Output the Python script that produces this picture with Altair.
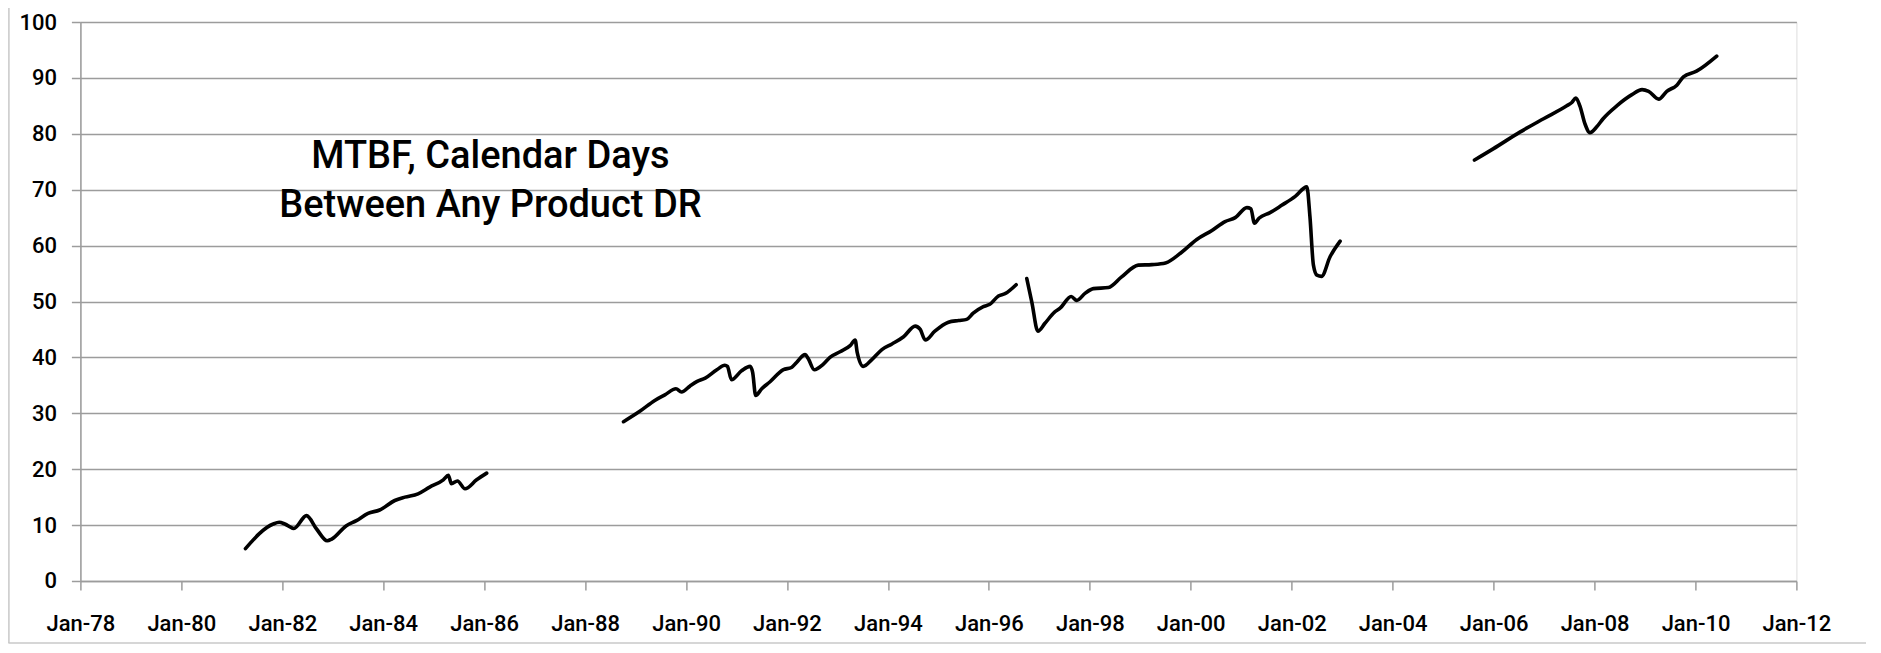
import altair as alt
import pandas as pd

# Segment data: decimal years and MTBF (calendar days)
seg1_t = [1981.27, 1981.82, 1981.94, 1982.05, 1982.23, 1982.48, 1982.68, 1982.89, 1982.98,
          1983.27, 1983.47, 1983.70, 1983.93, 1984.23, 1984.43, 1984.69, 1984.92, 1985.19,
          1985.29, 1985.35, 1985.47, 1985.62, 1985.85, 1986.05]
seg1_v = [5.8, 10.2, 10.5, 10.2, 9.4, 11.7, 9.3, 7.2, 7.5,
          9.9, 10.8, 12.1, 12.7, 14.4, 15.0, 15.6, 16.8, 18.1,
          18.9, 17.4, 17.9, 16.5, 18.1, 19.3]

seg2_t = [1988.76, 1989.09, 1989.38, 1989.58, 1989.80, 1989.91, 1990.08, 1990.22, 1990.38,
          1990.61, 1990.77, 1990.82, 1990.90, 1991.10, 1991.27, 1991.32, 1991.38, 1991.50,
          1991.66, 1991.93, 1992.09, 1992.19, 1992.36, 1992.42, 1992.54, 1992.72, 1992.85,
          1993.05, 1993.25, 1993.35, 1993.39, 1993.51, 1993.68, 1993.88, 1994.08, 1994.31,
          1994.54, 1994.64, 1994.74, 1994.93, 1995.20, 1995.40, 1995.56, 1995.69, 1995.89,
          1996.02, 1996.19, 1996.32, 1996.54]
seg2_v = [28.5, 30.4, 32.3, 33.3, 34.4, 33.8, 34.9, 35.7, 36.3,
          37.8, 38.6, 38.4, 36.0, 37.6, 38.4, 37.3, 33.2, 34.4,
          35.6, 37.8, 38.2, 39.1, 40.5, 39.8, 37.8, 38.8, 40.0,
          41.0, 42.1, 43.1, 40.9, 38.4, 39.6, 41.4, 42.4, 43.7,
          45.6, 45.0, 43.1, 44.7, 46.3, 46.6, 46.8, 47.9, 49.1,
          49.5, 51.0, 51.4, 53.0]

seg3_t = [1996.75, 1996.85, 1996.97, 1997.11, 1997.30, 1997.41, 1997.63, 1997.74, 1997.91,
          1998.07, 1998.37, 1998.63, 1998.96, 1999.23, 1999.50, 1999.82, 2000.12, 2000.42,
          2000.68, 2000.88, 2001.11, 2001.19, 2001.26, 2001.35, 2001.57, 2001.80, 2002.07,
          2002.30, 2002.36, 2002.43, 2002.50, 2002.59, 2002.76, 2002.96]
seg3_v = [54.1, 49.9, 44.7, 46.1, 48.1, 48.8, 50.9, 50.2, 51.5,
          52.3, 52.5, 54.4, 56.5, 56.6, 56.9, 58.8, 61.1, 62.7,
          64.3, 65.0, 66.8, 66.6, 64.0, 64.9, 65.9, 67.2, 68.8,
          70.5, 65.3, 56.5, 54.7, 54.5, 58.0, 60.8]

seg4_t = [2005.62, 2005.99, 2006.52, 2006.99, 2007.45, 2007.55, 2007.63, 2007.71, 2007.81,
          2007.91, 2008.04, 2008.17, 2008.44, 2008.74, 2008.94, 2009.07, 2009.27, 2009.43,
          2009.63, 2009.76, 2010.02, 2010.42]
seg4_v = [75.3, 77.3, 80.3, 82.7, 85.0, 85.6, 86.4, 85.0, 81.8,
          80.2, 81.2, 82.7, 85.0, 87.0, 87.9, 87.6, 86.2, 87.6,
          88.7, 90.2, 91.2, 93.9]

tick_years = list(range(1978, 2013, 2))
y_ticks = list(range(0, 101, 10))
annotation = ["MTBF, Calendar Days", "Between Any Product DR"]


def to_iso(t):
    y = int(t)
    frac = t - y
    start = pd.Timestamp(year=y, month=1, day=1)
    end = pd.Timestamp(year=y + 1, month=1, day=1)
    return (start + (end - start) * frac).strftime("%Y-%m-%dT%H:%M:%S")


rows = []
for sid, (ts, vs) in enumerate([(seg1_t, seg1_v), (seg2_t, seg2_v),
                                (seg3_t, seg3_v), (seg4_t, seg4_v)]):
    for t, v in zip(ts, vs):
        rows.append({"date": to_iso(t), "value": v, "seg": sid})
df = pd.DataFrame(rows)

FONT = "Roboto"
GRID = "#9c9c9c"
TOP = 14.0
W, H = 1716, 559

line = alt.Chart(df).mark_line(
    color="black", strokeWidth=3.6, interpolate="monotone", strokeCap="round", strokeJoin="round"
).encode(
    x=alt.X("date:T",
            scale=alt.Scale(domain=[alt.DateTime(year=1978, month=1, date=1),
                                    alt.DateTime(year=2012, month=1, date=1)]),
            axis=alt.Axis(values=[alt.DateTime(year=y, month=1, date=1) for y in tick_years],
                          format="%b-%y", title=None, grid=False,
                          domainColor=GRID, domainWidth=1.5,
                          tickColor=GRID, tickWidth=1.5, tickSize=9,
                          labelFont=FONT, labelFontSize=22, labelColor="black",
                          labelFontWeight=500,
                          labelPadding=24, labelFlush=False, labelOverlap=False)),
    y=alt.Y("value:Q",
            scale=alt.Scale(domain=[0, 100], nice=False, zero=True),
            axis=alt.Axis(values=y_ticks, title=None, grid=True,
                          gridColor=GRID, gridWidth=1.5,
                          domainColor=GRID, domainWidth=1.5,
                          tickColor=GRID, tickWidth=1.5, tickSize=9,
                          labelFont=FONT, labelFontSize=22, labelColor="black",
                          labelPadding=15, labelFontWeight=500)),
    detail="seg:N",
)

dummy = pd.DataFrame({"k": [0]})

text = alt.Chart(dummy).mark_text(
    text=annotation, font=FONT, fontSize=38, fontWeight=500, color="black",
    align="center", baseline="alphabetic", lineHeight=49
).encode(x=alt.value(410), y=alt.value(160 - TOP))

border_left = alt.Chart(dummy).mark_rule(color="#c8c8c8", strokeWidth=1.5).encode(
    x=alt.value(-71.5), y=alt.value(-TOP), y2=alt.value(H + 62))
border_bottom = alt.Chart(dummy).mark_rule(color="#c8c8c8", strokeWidth=1.5).encode(
    x=alt.value(-72), x2=alt.value(1786), y=alt.value(H + 62))

chart = alt.layer(border_left, border_bottom, line, text).properties(
    width=W, height=H,
    autosize=alt.AutoSizeParams(type="none"),
    padding={"left": 72.4, "top": TOP, "right": 70, "bottom": 64},
).configure_view(strokeWidth=0).configure(background="white")

chart.save("out.html", embed_options={"renderer": "svg", "actions": False})
